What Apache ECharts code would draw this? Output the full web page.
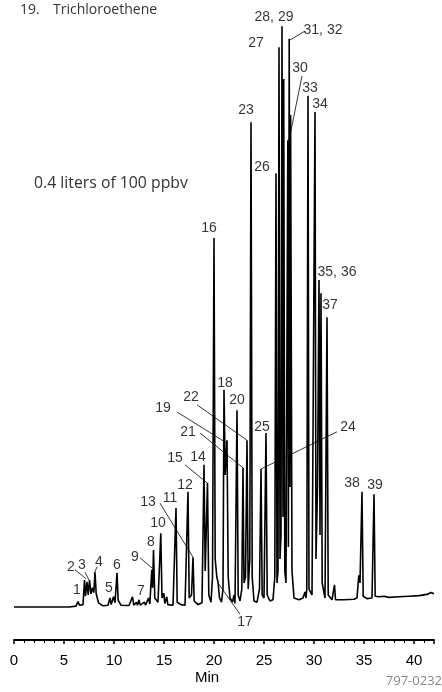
<!DOCTYPE html>
<html><head><meta charset="utf-8">
<script src="https://cdn.jsdelivr.net/npm/echarts@6/dist/echarts.min.js"></script>
<style>html,body{margin:0;padding:0;background:#fff}#c{width:442px;height:692px}</style>
</head><body><div id="c"></div>
<script>
// ---- chromatogram trace (retention time in min, detector signal in arbitrary units) ----
const traceTime = [0,5.5,6.2,6.4,6.55,6.9,7.05,7.15,7.3,7.42,7.55,7.7,7.85,7.98,8.1,8.22,8.45,8.9,9.4,9.6,9.72,9.95,10.1,10.3,10.42,10.7,11.5,11.85,11.98,12.25,12.35,12.5,12.62,13.05,13.15,13.45,13.58,13.78,13.86,13.95,14.08,14.4,14.68,14.8,14.98,15.08,15.28,15.38,15.9,16.2,16.32,16.7,17.1,17.4,17.52,17.75,17.9,18.02,18.4,18.8,19.0,19.12,19.35,19.48,19.7,19.85,20.0,20.12,20.28,20.4,20.55,20.75,20.9,21.0,21.12,21.3,21.42,21.6,21.85,22.0,22.1,22.3,22.42,22.6,22.78,22.9,23.0,23.15,23.3,23.42,23.58,23.7,23.82,24.0,24.3,24.55,24.7,24.82,25.0,25.2,25.32,25.6,25.9,26.08,26.2,26.3,26.4,26.5,26.6,26.7,26.8,26.9,26.97,27.08,27.2,27.38,27.44,27.52,27.6,27.66,27.8,28.0,28.5,28.9,29.1,29.2,29.28,29.4,29.5,29.8,30.1,30.2,30.35,30.5,30.6,30.7,30.82,31.1,31.3,31.42,31.8,32.05,32.15,33.0,34.0,34.3,34.48,34.6,34.8,34.92,35.3,35.8,36.0,36.12,36.5,37.0,37.5,38.5,39.5,40.5,41.3,41.7,42];
const traceSignal = [0,0,0.15,0.9,0.3,0.4,4.5,1.8,4.2,2.0,4.5,2.2,3.2,2.4,5.8,2.2,0.7,0.2,0.3,1.5,0.4,1.7,0.7,5.7,1.1,0.3,0.25,1.7,0.3,0.8,0.3,1.2,0.3,0.8,0.3,1.5,0.5,6.2,3.2,9.5,1.5,0.8,12.3,1.5,2.3,0.6,1.7,0.4,0.3,16.5,0.8,0.4,0.3,19.2,1.5,2.0,8.3,1.0,0.4,0.7,23.7,6,20.7,2,0.8,5,61.5,8,5,4.2,1.5,0.8,3,36.2,22,27.8,5,1.5,0.8,2,0.6,32.8,2,1,3,23.2,4,5,27.8,3,8,80.8,5,1,0.8,3,23,2,1.5,29,2,1,1.2,5,72.3,4,6,93.3,8,12,96.8,15,88,6,4,77.8,10,94.7,20,82,6,1.5,1.2,1.5,2.5,1.5,3,85.2,3,2,82.5,8,20,54.5,12,52.3,4,1.5,48.3,2,1.2,3.7,1.2,1.2,1.3,1.5,5.3,4,19.2,1.8,1.4,1.5,18.8,1.8,1.7,1.8,1.6,1.7,1.8,1.9,2.1,2.4,2.2];

// ---- peak labels ----
const peakNames = ['1','2','3','4','5','6','7','8','9','10','11','12','13','14','15','16','17','18','19','20','21','22','23','24','25','26','27','28, 29','30','31, 32','33','34','35, 36','37','38','39'];
// label anchor positions (layout, axis units)
const labelPos = [[6.3,2.8],[5.7,6.7],[6.8,7.0],[8.5,7.5],[9.5,3.2],[10.3,7.0],[12.7,2.7],[13.7,10.8],[12.1,8.3],[14.4,14],[15.6,18.2],[17.1,20.3],[13.4,17.5],[18.4,25],[16.1,24.8],[19.5,63.2],[23.1,-2.5],[21.1,37.3],[14.9,33.2],[22.3,34.5],[17.4,29.2],[17.7,35],[23.2,82.8],[33.4,30],[24.8,30],[24.8,73.3],[24.2,94],[26.0,98.3],[28.6,89.8],[30.9,96.2],[29.6,86.5],[30.6,83.8],[32.3,55.8],[31.6,50.3],[33.8,20.7],[36.1,20.3]];
// leader lines (layout, axis units): [from, to]
const leaderLines = [
  [[6.1,6.2],[7.2,4.7]], [[7.1,5.8],[7.5,4.5]], [[8.3,6.7],[8.0,5.5]],
  [[12.6,8.2],[13.8,6.5]], [[14.6,17.3],[17.9,8.3]], [[17.1,23.7],[19.3,20.7]],
  [[16.3,32.5],[21.3,27.3]], [[18.6,29],[22.9,23.2]], [[18.3,33.7],[23.3,27.8]],
  [[22.6,-1.2],[20.4,4]], [[32.3,29.2],[24.7,23]], [[28.8,88.5],[27.5,77.8]],
  [[29.1,96],[27.6,94.5]]
];
const xTicks = [0,5,10,15,20,25,30,35,40];

const chart = echarts.init(document.getElementById('c'), null, {renderer:'canvas'});
chart.setOption({
  animation:false,
  grid:{left:14,right:8,top:7,bottom:52},
  xAxis:{type:'value',min:0,max:42,interval:5,
    axisLine:{onZero:false,lineStyle:{color:'#000',width:2}},
    axisTick:{show:true,length:4,lineStyle:{color:'#000',width:1.5}},
    minorTick:{show:true,splitNumber:5,length:3,lineStyle:{color:'#000',width:1}},
    splitLine:{show:false},
    axisLabel:{margin:13,color:'#000',fontSize:15,fontFamily:'Liberation Sans',
      formatter:v=> xTicks.indexOf(v)>=0 ? String(v) : ''}},
  yAxis:{type:'value',min:-5.5,max:100,show:false},
  series:[
    {type:'line',data:traceTime.map((t,i)=>[t,traceSignal[i]]),symbol:'none',showSymbol:false,
     lineStyle:{color:'#000',width:1.6},clip:false,silent:true,
     markLine:{silent:true,symbol:['none','none'],label:{show:false},
       lineStyle:{color:'#000',width:0.8,type:'solid'},
       data:leaderLines.map(l=>[{coord:l[0]},{coord:l[1]}])}},
    {type:'scatter',symbolSize:0,silent:true,clip:false,
     data:peakNames.map((n,i)=>({name:n,value:labelPos[i]})),
     label:{show:true,position:'inside',formatter:p=>p.name,color:'#000',fontSize:14,fontFamily:'Liberation Sans'}}
  ],
  graphic:[
    {type:'text',style:{x:20,y:10,text:'19.',font:'14px "Open Sans"',fill:'#333',verticalAlign:'middle'}},
    {type:'text',style:{x:53,y:10,text:'Trichloroethene',font:'14px "Open Sans"',fill:'#333',verticalAlign:'middle'}},
    {type:'text',style:{x:34,y:183,text:'0.4 liters of 100 ppbv',font:'15.8px "Open Sans"',fill:'#333',verticalAlign:'middle'}},
    {type:'text',style:{x:207,y:678,text:'Min',font:'15px "Liberation Sans"',fill:'#000',align:'center',verticalAlign:'middle'}},
    {type:'text',style:{x:442,y:681,text:'797-0232',font:'13px "Open Sans"',fill:'#888',align:'right',verticalAlign:'middle'}}
  ]
});
</script></body></html>
